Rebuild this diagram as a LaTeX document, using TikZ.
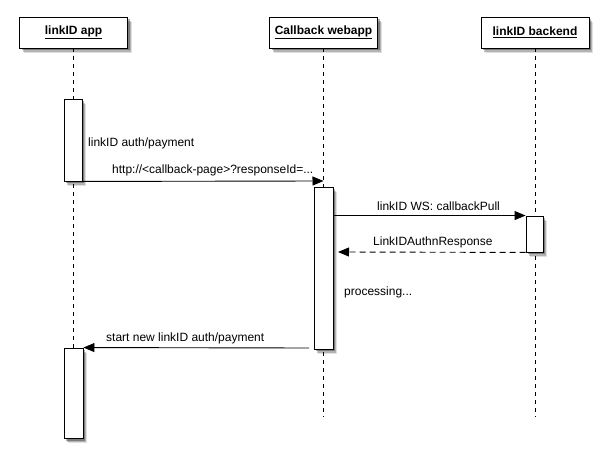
\documentclass[tikz,border=0pt]{standalone}
\usepackage{fontspec}
\setmainfont{Liberation Sans}
\usetikzlibrary{arrows.meta,shadows}
\begin{document}
\begin{tikzpicture}[x=1pt,y=-1pt,
  shad/.style={drop shadow={shadow xshift=4pt,shadow yshift=-5pt,opacity=0.12,fill=black},
               drop shadow={shadow xshift=3pt,shadow yshift=-4pt,opacity=0.2,fill=black},
               drop shadow={shadow xshift=2pt,shadow yshift=-2.5pt,opacity=0.3,fill=black}},
  header/.style={draw,line width=0.9pt,fill=white,shad,minimum width=108pt,minimum height=31pt,
                 inner sep=0pt,font=\fontsize{12}{14}\selectfont\bfseries},
  actbox/.style={draw,line width=0.9pt,fill=white,shad,inner sep=0pt},
  life/.style={line width=0.8pt,dash pattern=on 4pt off 4pt},
  msg/.style={line width=0.9pt,-{Triangle[length=11pt,width=9pt]}},
  reply/.style={line width=0.9pt,dash pattern=on 6pt off 4pt,-{Triangle[length=11pt,width=9pt]}},
  lbl/.style={font=\fontsize{12}{14}\selectfont,inner sep=0pt,anchor=west}]
\useasboundingbox (0,0) rectangle (608,462);

% headers
\node[header] (h1) at (73.5,32.5) {\underline{linkID app}};
\node[header] (h2) at (323.5,32.5) {\underline{Callback webapp}};
\node[header] (h3) at (535,32.5) {\underline{linkID backend}};

% lifeline ends
\coordinate (e1) at (73.5,417);
\coordinate (e2) at (323.5,417);
\coordinate (e3) at (535,417);
\draw[life] (h1.south) -- (e1);
\draw[life] (h2.south) -- (e2);
\draw[life] (h3.south) -- (e3);

% activations
\node[actbox,minimum width=18pt,minimum height=82pt] (a1) at (73,140) {};
\node[actbox,minimum width=19pt,minimum height=162pt] (a2) at (323.5,268) {};
\node[actbox,minimum width=17pt,minimum height=36pt] (a3) at (534.5,234) {};
\node[actbox,minimum width=19pt,minimum height=90pt] (a4) at (73.5,393) {};

% free ends
\coordinate (t1) at (323.5,181);
\coordinate (t3) at (338,252);
\coordinate (s4) at (309,348);

% messages
\draw[msg] (a1.south east) -- (t1);
\draw[msg] (a2.east |- a3.north west) -- (a3.north west);
\draw[reply] (a3.south west) -- (t3);
\draw[msg] (s4) -- (a4.north east);

% labels
\node[lbl] (l0) at (88,143) {linkID auth/payment};
\node[lbl] (l1) at (112,170) {http://<callback-page>?responseId=...};
\node[lbl] (l2) at (377,206) {linkID WS: callbackPull};
\node[lbl] (l3) at (373,242) {LinkIDAuthnResponse};
\node[lbl] (l4) at (344,292) {processing...};
\node[lbl] (l5) at (106,338) {start new linkID auth/payment};
\end{tikzpicture}
\end{document}
